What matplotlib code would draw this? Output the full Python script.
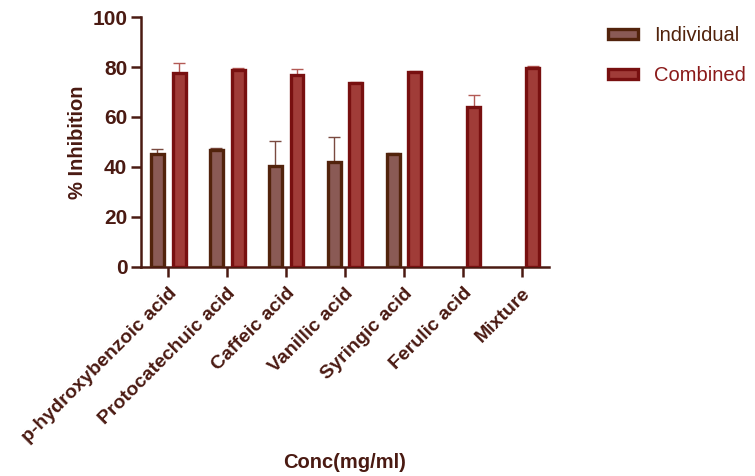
import numpy as np
import matplotlib.pyplot as plt
from matplotlib.patches import Patch

plt.rcParams['font.family'] = ['Liberation Sans', 'DejaVu Sans']

categories = ['p-hydroxybenzoic acid', 'Protocatechuic acid', 'Caffeic acid',
              'Vanillic acid', 'Syringic acid', 'Ferulic acid', 'Mixture']
individual = [45.3, 46.7, 40.2, 41.8, 45.2, np.nan, np.nan]
individual_err = [2.0, 0.8, 10.0, 10.2, 0.4, 0, 0]
combined = [77.6, 78.8, 76.8, 73.6, 78.1, 64.0, 79.7]
combined_err = [4.0, 0.7, 2.6, 0.3, 0.3, 4.7, 0.6]

axis_col = '#4a1a12'
ind_edge, ind_face, ind_err = '#52230c', '#8a5a55', '#7a4a40'
com_edge, com_face, com_err = '#781010', '#a03c38', '#b35a55'

fig = plt.figure(figsize=(7.55, 4.76), dpi=100)
ax = fig.add_axes([0.187, 0.44, 0.54, 0.524])

x = np.arange(len(categories))
w = 0.22
off = 0.185

ax.bar(x - off, individual, w, color=ind_face, edgecolor=ind_edge, linewidth=2.4, zorder=3)
ax.bar(x + off, combined, w, color=com_face, edgecolor=com_edge, linewidth=2.4, zorder=3)
ax.errorbar(x - off, individual, yerr=[np.zeros(len(x)), individual_err], fmt='none',
            ecolor=ind_err, elinewidth=1, capsize=4, capthick=1, zorder=2)
ax.errorbar(x + off, combined, yerr=[np.zeros(len(x)), combined_err], fmt='none',
            ecolor=com_err, elinewidth=1, capsize=4, capthick=1, zorder=2)

ax.set_xlim(-0.46, 6.46)
ax.set_ylim(0, 100)
ax.set_yticks([0, 20, 40, 60, 80, 100])
ax.set_xticks(x)
ax.set_xticklabels(categories, rotation=45, ha='right', rotation_mode='anchor',
                   fontsize=14, fontweight='bold', color=axis_col)
for lbl in ax.get_yticklabels():
    lbl.set_fontsize(15)
    lbl.set_fontweight('bold')
    lbl.set_color(axis_col)

for s in ['top', 'right']:
    ax.spines[s].set_visible(False)
for s in ['left', 'bottom']:
    ax.spines[s].set_color(axis_col)
    ax.spines[s].set_linewidth(1.8)
ax.tick_params(axis='both', colors=axis_col, width=1.8, length=7)
ax.tick_params(axis='x', pad=6)
ax.tick_params(axis='y', pad=3)

ax.set_ylabel('% Inhibition', fontsize=14.5, fontweight='bold', color=axis_col, labelpad=4)
ax.set_xlabel('Conc(mg/ml)', fontsize=14.5, fontweight='bold', color=axis_col, va='center')
ax.xaxis.set_label_coords(0.5, (266.7 - 463) / 249.3)

handles = [Patch(facecolor=ind_face, edgecolor=ind_edge, linewidth=2.4),
           Patch(facecolor=com_face, edgecolor=com_edge, linewidth=2.4)]
leg = fig.legend(handles, ['Individual', 'Combined'], loc='upper left',
                 bbox_to_anchor=(608 / 755, 1 - 26 / 476), frameon=False, fontsize=14.5,
                 borderaxespad=0, borderpad=0,
                 handlelength=1.5, handleheight=0.4, labelspacing=1.05, handletextpad=0.8)
leg.get_texts()[0].set_color('#52230c')
leg.get_texts()[1].set_color('#8a1a1a')

fig.savefig('out.png', dpi=100)
